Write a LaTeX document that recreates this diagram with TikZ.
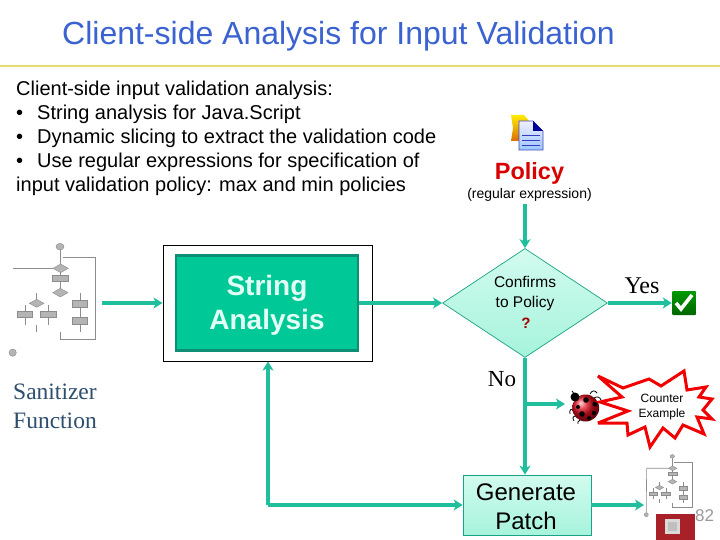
\documentclass[tikz,border=0pt]{standalone}
\usepackage{fontspec}
\setmainfont{Liberation Sans}
\newfontfamily\timesf{Liberation Serif}
\usetikzlibrary{arrows.meta,shapes.geometric}
\definecolor{flowteal}{HTML}{1FBF9E}
\definecolor{boxteal}{HTML}{00C896}
\definecolor{boxedge}{HTML}{0E8F75}
\definecolor{titleblue}{HTML}{3A62D0}
\definecolor{rulegold}{HTML}{E6DC6E}
\definecolor{flowgrey}{HTML}{B4B4B4}
\definecolor{flowline}{HTML}{8C8C8C}
\definecolor{sanblue}{HTML}{2E4E6E}
\definecolor{bugred}{HTML}{E01020}
\definecolor{chipred}{HTML}{A82028}
\definecolor{mintlight}{HTML}{D2FBEE}
\definecolor{mintdeep}{HTML}{A6F3DC}
\definecolor{saintext}{HTML}{E2FFF6}
\tikzset{
  flow/.style={draw=flowteal,line width=3.2pt,-{Stealth[length=9pt,width=11pt,inset=2.5pt]}},
  bodytext/.style={anchor=base west,inner sep=0pt,font=\fontsize{20}{24}\selectfont,text=black},
  paleshade/.style={top color=mintlight,bottom color=mintdeep,draw=flowteal!85!black,line width=0.7pt},
  mrect/.style={fill=flowgrey,draw=flowline,line width=0.4pt},
  mline/.style={draw=flowline,line width=0.6pt},
  sanstyle/.style={anchor=base west,inner sep=0pt,text=sanblue,font=\timesf\fontsize{23.5}{28}\selectfont},
}
\newcommand{\miniflow}{%
  \draw[mline] (180,50)--(180,105) (188,82)--(287,82)--(287,327)--(182,327)--(182,305);
  \draw[mline] (180,125)--(180,175) (110,190)--(110,212) (75,225)--(75,285) (145,225)--(145,285)
     (240,190)--(240,305) (110,285)--(110,305);
  \draw[mrect] (180,50) ellipse (12 and 10);
  \draw[mrect] (38,368) ellipse (11 and 11);
  \draw[mrect] (159,115)--(182,102)--(205,115)--(182,128)--cycle;
  \draw[mrect] (157,135) rectangle (205,155);
  \draw[mrect] (158,188)--(181,175)--(204,188)--(181,201)--cycle;
  \draw[mrect] (88,220)--(110,208)--(132,220)--(110,232)--cycle;
  \draw[mrect] (52,243) rectangle (98,262);
  \draw[mrect] (122,243) rectangle (168,262);
  \draw[mrect] (217,212) rectangle (263,233);
  \draw[mrect] (217,262) rectangle (263,283);
}
\begin{document}
\begin{tikzpicture}[x=1pt,y=-1pt]
\useasboundingbox (0,0) rectangle (720,540);
\fill[white] (0,0) rectangle (720,540);
\draw[rulegold,line width=2.4pt] (0,66) -- (720,66);
\node[anchor=base west,inner sep=0pt,text=titleblue,font=\fontsize{32}{36}\selectfont] (title) at (62,45) {Client-side Analysis for Input Validation};
\node[bodytext] (l1) at (16,96) {Client-side input validation analysis:};
\node[bodytext] (l2) at (16,120) {•\hspace{14pt}String analysis for Java.Script};
\node[bodytext] (l3) at (16,144) {•\hspace{14pt}Dynamic slicing to extract the validation code};
\node[bodytext] (l4) at (16,168) {•\hspace{14pt}Use regular expressions for specification of};
\node[bodytext] (l5) at (16,192) {input validation policy: max and min policies};

% policy icon
\shade[top color=yellow!85!orange,bottom color=orange!85!black] (511,115)--(524,115)--(530,122)--(530,141)--(511,141)--(513,128)--cycle;
\shade[top color=blue!6!white,bottom color=cyan!45!blue!40!white,draw=blue!45!gray,line width=0.6pt] (519,121)--(533,121)--(543,131)--(543,150)--(519,150)--cycle;
\fill[blue!60!black] (533,121)--(543,131)--(533,131)--cycle;
\draw[blue!55!gray,line width=0.7pt] (522,135)--(540,135) (522,140)--(540,140) (522,145)--(540,145);
\node[anchor=base,inner sep=0pt,text=red!85!black,font=\fontsize{23.5}{26}\bfseries\selectfont] (policy) at (529.5,180) {Policy};
\node[anchor=base,inner sep=0pt,font=\fontsize{14}{16}\selectfont] (regex) at (529.5,199) {(regular expression)};

% left flow
\begin{scope}[shift={(0,230)},scale=1/3]\miniflow\draw[mline] (40,115)--(160,115);\end{scope}
\node[sanstyle] (san) at (13,399) {Sanitizer};
\node[sanstyle] (fun) at (13,428) {Function};

% string analysis
\node[draw=black,line width=1pt,minimum width=209pt,minimum height=116pt,inner sep=0pt] (frame) at (267.5,303) {};
\node[fill=boxteal,draw=boxedge,line width=2.2pt,minimum width=182pt,minimum height=95pt,inner sep=0pt] (sa) at (267,303) {};
\node[inner sep=0pt,text=saintext,font=\fontsize{28}{34}\bfseries\selectfont,align=center] (satext) at (267,305) {String\\Analysis};

% decision
\node[diamond,aspect=1.5,paleshade,minimum width=165pt,minimum height=109pt,inner sep=0pt] (dec) at (525,303) {};
\node[anchor=base,inner sep=0pt,font=\fontsize{15.5}{18}\selectfont] (c1) at (525,287) {Confirms};
\node[anchor=base,inner sep=0pt,font=\fontsize{15.5}{18}\selectfont] (c2) at (525,307) {to Policy};
\node[anchor=base,inner sep=0pt,text=red!65!black,font=\fontsize{15}{18}\bfseries\selectfont] (c3) at (526,328) {?};

\node[anchor=base,inner sep=0pt,font=\timesf\fontsize{24}{26}\selectfont] (yes) at (642,293) {Yes};
\node[anchor=base,inner sep=0pt,font=\timesf\fontsize{23}{26}\selectfont] (no) at (502,386) {No};

% check
\node[top color=green!60!black,bottom color=green!40!black,minimum size=24pt,inner sep=0pt,rounded corners=1pt] (chk) at (684,303) {};
\draw[white,line width=3.6pt] (676,303)--(681,309)--(692,295);

% patch
\node[paleshade,minimum width=128pt,minimum height=60pt,inner sep=0pt] (patch) at (527,505) {};
\node[inner sep=0pt,align=center,font=\fontsize{24}{29}\selectfont] (patchtext) at (526,506.5) {Generate\\Patch};

% connectors
\coordinate (src) at (102,303);
\coordinate (pol) at (525,204);
\coordinate (branch) at (525,404);
\coordinate (corner) at (268,505);
\coordinate (bugin) at (565,404);
\coordinate (flowR) at (644,505);
\path[flow] (src) -- (frame.west);
\path[flow] (sa.east) -- (dec.west);
\path[flow] (pol) -- (dec.north);
\path[flow] (dec.east) -- (chk.west);
\path[flow] (dec.south) -- (dec.south |- patch.north);
\path[flow] (branch) -- (bugin);
\path[flow] (patch.east) -- (flowR);
\path[flow] (corner) -- (patch.west);
\path[flow] (corner) -- (frame.south -| corner);

% ladybug
\draw[black,line width=0.8pt] (577,399)..controls (574,392) and (572,392)..(572,391)
 (590,394)..controls (592,390) and (595,390)..(597,393)
 (594,398)..controls (597,396) and (600,397)..(601,400)
 (574,410)..controls (571,408) and (569,410)..(570,414)
 (576,416)..controls (573,416) and (572,418)..(574,421)
 (580,420)..controls (578,421) and (577,423)..(578,424);
\shade[ball color=bugred] (585.7,408) circle (13.5);
\fill[black] (575,397) circle (4.5);
\fill[black] (586,400) circle (2.8) (595,404) circle (2.5) (578,407) circle (2) (582,414) circle (2.8) (594,413) circle (2.2) (589,418) circle (2);

% star
\path[draw=red!95!black,fill=white,line width=3pt,line join=miter,miter limit=4]
 (598,376)--(623,388)--(649,379)--(661,386)--(684,371)--(687,390)--(706,387)--(699,397)--(712,399)--(703,410)--(712,419)--(697,417)--(704,434)--(683,425)--(675,438)--(663,428)--(650,447)--(645,427)--(628,435)--(627,423)--(598,423)--(628,411)--(600,402)--(622,397)--cycle;
\node[inner sep=0pt,font=\fontsize{12}{14.5}\selectfont,align=center] (ce) at (662,407) {Counter\\Example};

% right mini flow
\begin{scope}[shift={(639.3,447.2)},scale=0.55/3]\miniflow\draw[mline] (40,115)--(160,115) (40,115)--(38,355);\end{scope}
\node[anchor=base west,inner sep=0pt,text=gray!80,font=\fontsize{17}{20}\selectfont] (num) at (695,521) {82};
\fill[chipred] (656,514) rectangle (695,540);
\fill[white!70!gray] (665,519) rectangle (680,534);
\fill[gray!50!white] (668,522) rectangle (677,531);
\end{tikzpicture}
\end{document}
